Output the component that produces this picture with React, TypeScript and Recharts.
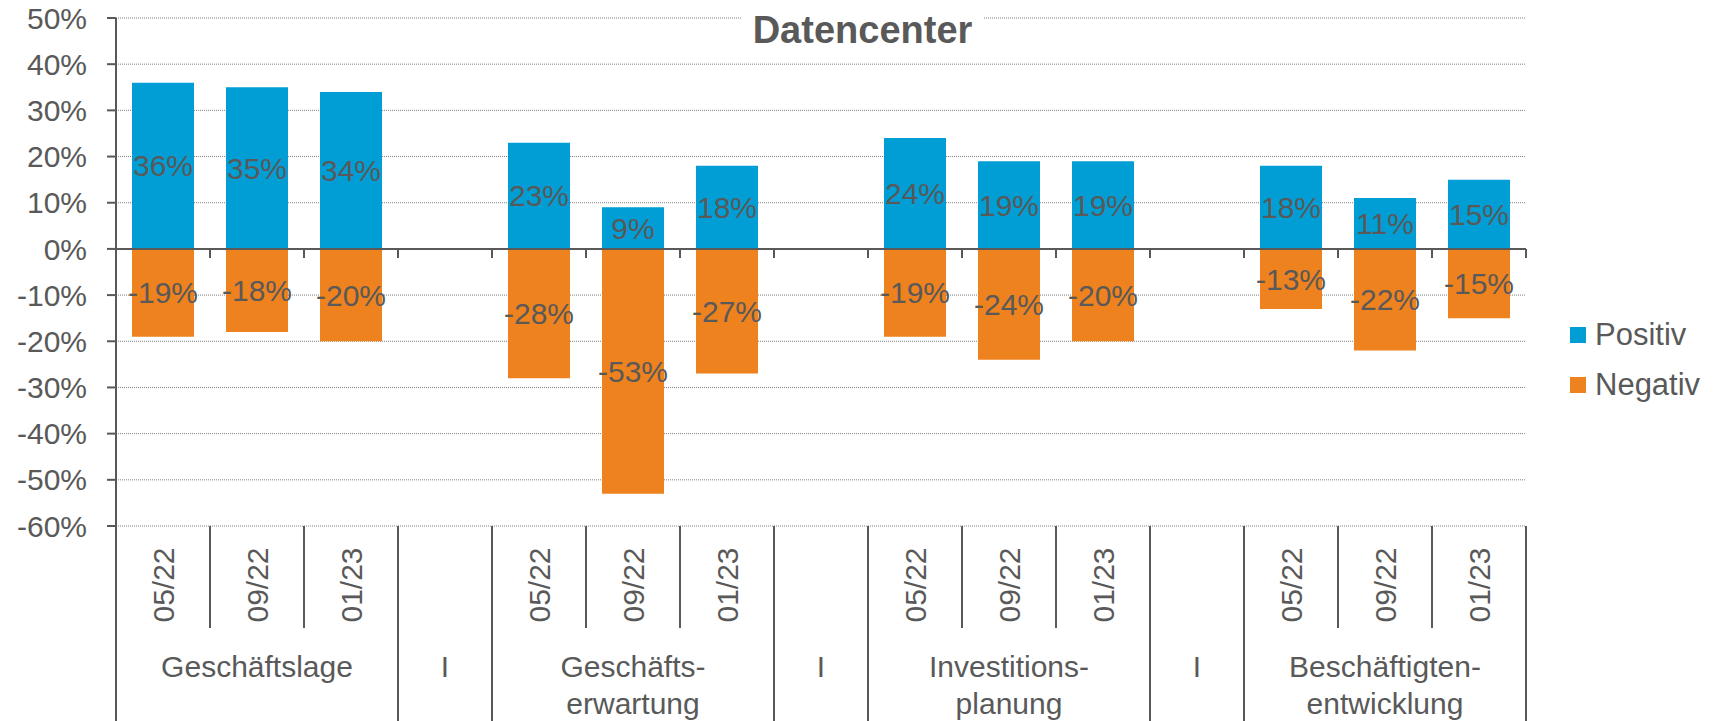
import React from 'react';
import { BarChart, Bar, XAxis, YAxis, CartesianGrid, ReferenceLine, LabelList } from 'recharts';

// chart data
const groups = ['Geschäftslage', 'Geschäfts-\nerwartung', 'Investitions-\nplanung', 'Beschäftigten-\nentwicklung'];
const periods = ['05/22', '09/22', '01/23'];
const separatorLabel = 'I';

const positivGeschaeftslage = [36, 35, 34];
const positivErwartung = [23, 9, 18];
const positivInvestition = [24, 19, 19];
const positivBeschaeftigung = [18, 11, 15];

const negativGeschaeftslage = [-19, -18, -20];
const negativErwartung = [-28, -53, -27];
const negativInvestition = [-19, -24, -20];
const negativBeschaeftigung = [-13, -22, -15];

const yTicks = [-60, -50, -40, -30, -20, -10, 0, 10, 20, 30, 40, 50];

const seriesNames = ['Positiv', 'Negativ'];
const seriesColors = ['#009ED5', '#EE821E'];

const positivByGroup = [positivGeschaeftslage, positivErwartung, positivInvestition, positivBeschaeftigung];
const negativByGroup = [negativGeschaeftslage, negativErwartung, negativInvestition, negativBeschaeftigung];

type Row = { slot: string; period: string; group?: string; sep: boolean; positiv: number | null; negativ: number | null };

const data: Row[] = [];
groups.forEach((g, gi) => {
  if (gi > 0) data.push({ slot: `sep${gi}`, period: '', sep: true, positiv: null, negativ: null });
  periods.forEach((p, pi) => {
    data.push({
      slot: `${gi}-${p}`,
      period: p,
      group: pi === 1 ? g : undefined,
      sep: false,
      positiv: positivByGroup[gi][pi],
      negativ: negativByGroup[gi][pi],
    });
  });
});

const W = 1716;
const H = 721;
const PLOT_LEFT = 116;
const PLOT_RIGHT = 1526;
const PLOT_TOP = 18;
const PLOT_BOTTOM = 526;
const SLOT = (PLOT_RIGHT - PLOT_LEFT) / data.length;
const ZERO_Y = PLOT_TOP + ((PLOT_BOTTOM - PLOT_TOP) * 50) / 110;

const FONT = '"Liberation Sans", Arial, sans-serif';
const TEXT = '#595959';
const AXIS = '#595959';

const CategoryTick = ({ x, index }: any) => {
  const row = data[index];
  if (!row) return null;
  const left = x - SLOT / 2;
  const right = x + SLOT / 2;
  const next = data[index + 1];
  const longRight = row.sep || !next || next.sep;
  return (
    <g fontFamily={FONT} fill={TEXT}>
      {index === 0 && <line x1={left} x2={left} y1={PLOT_BOTTOM} y2={H} stroke={AXIS} strokeWidth={2} />}
      <line x1={right} x2={right} y1={PLOT_BOTTOM} y2={longRight ? H : 628} stroke={AXIS} strokeWidth={2} />
      <line x1={right} x2={right} y1={ZERO_Y} y2={ZERO_Y + 9} stroke={AXIS} strokeWidth={2} />
      {!row.sep && (
        <text
          x={x}
          y={585}
          transform={`rotate(-90 ${x} 585)`}
          textAnchor="middle"
          dominantBaseline="central"
          fontSize={30}
        >
          {row.period}
        </text>
      )}
      {row.sep && (
        <text x={x} y={666} textAnchor="middle" dominantBaseline="central" fontSize={30}>
          {separatorLabel}
        </text>
      )}
      {row.group &&
        row.group.split('\n').map((line, i) => (
          <text key={i} x={x} y={666 + i * 37} textAnchor="middle" dominantBaseline="central" fontSize={30}>
            {line}
          </text>
        ))}
    </g>
  );
};

const pct = (v: any) => (v === null || v === undefined ? '' : `${v}%`);

const App: React.FC = () => {
  return (
    <div style={{ position: 'absolute', left: 0, top: 0, width: W, height: H, background: '#fff' }}>
      <BarChart
        width={W}
        height={H}
        data={data}
        stackOffset="sign"
        margin={{ top: PLOT_TOP, right: W - PLOT_RIGHT, left: 16, bottom: 0 }}
      >
        <CartesianGrid vertical={false} stroke="#7f7f7f" strokeDasharray="1 1" />
        <XAxis
          dataKey="slot"
          height={H - PLOT_BOTTOM}
          interval={0}
          tickLine={false}
          axisLine={false}
          tick={(props: any) => <CategoryTick {...props} />}
        />
        <YAxis
          width={100}
          domain={[-60, 50]}
          ticks={yTicks}
          tickFormatter={pct}
          tickSize={9}
          tickMargin={20}
          axisLine={{ stroke: AXIS, strokeWidth: 2 }}
          tickLine={{ stroke: AXIS, strokeWidth: 2 }}
          tick={{ fill: TEXT, fontSize: 30, fontFamily: FONT }}
          allowDataOverflow
        />
        <Bar dataKey="positiv" name={seriesNames[0]} stackId="s" fill={seriesColors[0]} barSize={62} isAnimationActive={false}>
          <LabelList dataKey="positiv" position="center" formatter={pct} fill={TEXT} fontSize={30} fontFamily={FONT} />
        </Bar>
        <Bar dataKey="negativ" name={seriesNames[1]} stackId="s" fill={seriesColors[1]} barSize={62} isAnimationActive={false}>
          <LabelList dataKey="negativ" position="center" formatter={pct} fill={TEXT} fontSize={30} fontFamily={FONT} />
        </Bar>
        <ReferenceLine y={0} stroke={AXIS} strokeWidth={2} />
      </BarChart>

      <div
        style={{
          position: 'absolute',
          left: 742,
          top: 11,
          width: 241,
          height: 38,
          lineHeight: '38px',
          background: '#fff',
          textAlign: 'center',
          fontFamily: FONT,
          fontWeight: 'bold',
          fontSize: 38,
          color: TEXT,
        }}
      >
        Datencenter
      </div>

      <div style={{ position: 'absolute', left: 1570, top: 310, fontFamily: FONT, fontSize: 31, color: TEXT }}>
        {seriesNames.map((name, i) => (
          <div key={name} style={{ display: 'flex', alignItems: 'center', height: 50 }}>
            <span style={{ display: 'inline-block', width: 16, height: 16, background: seriesColors[i], marginRight: 9 }} />
            <span>{name}</span>
          </div>
        ))}
      </div>
    </div>
  );
};

export default App;
